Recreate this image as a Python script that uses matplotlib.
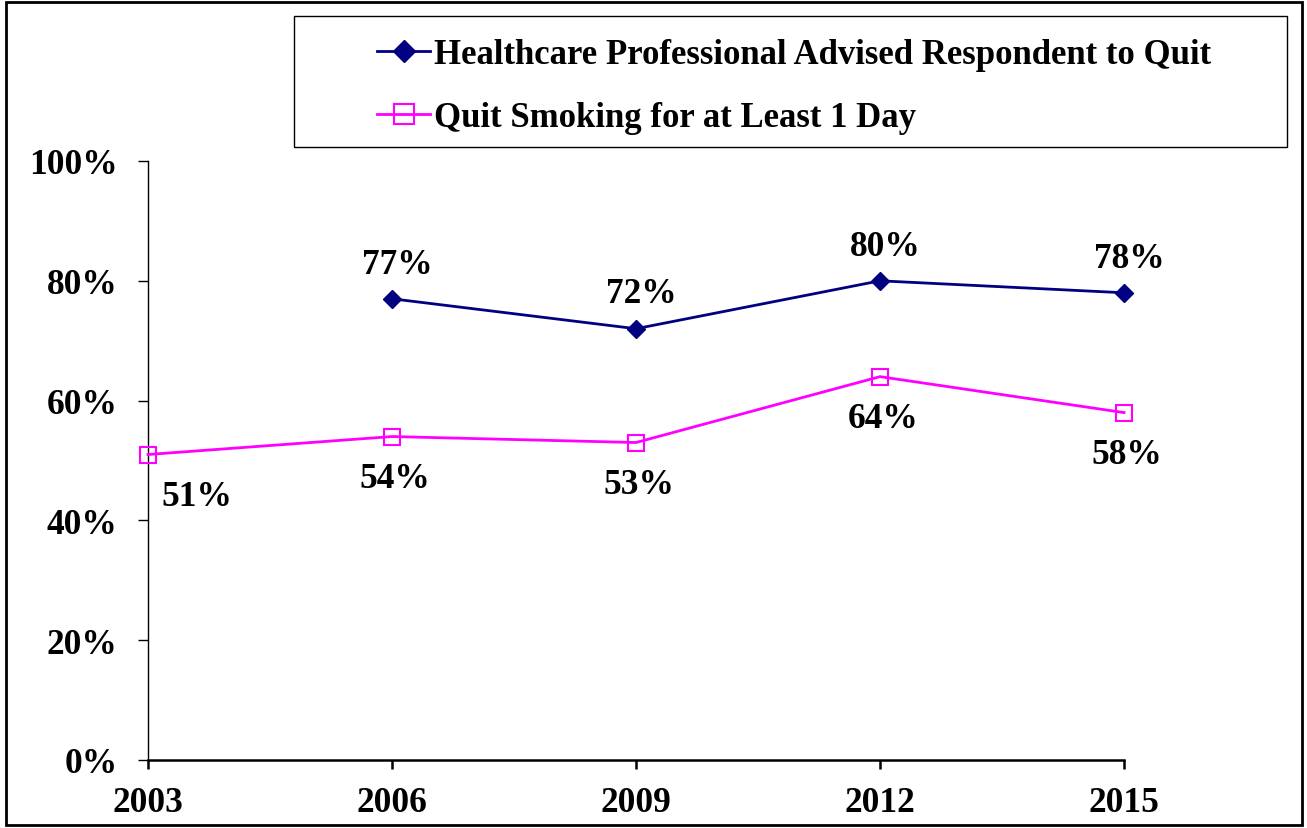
import numpy as np
import matplotlib.pyplot as plt
from matplotlib.patches import Rectangle

years = [2003, 2006, 2009, 2012, 2015]
advised = [np.nan, 77, 72, 80, 78]
quit_1day = [51, 54, 53, 64, 58]
yticks = [0, 20, 40, 60, 80, 100]

plt.rcParams['font.family'] = ['Liberation Serif', 'DejaVu Serif']
plt.rcParams['font.weight'] = 'bold'
plt.rcParams['font.size'] = 25.5

W, H = 1307, 829
fig = plt.figure(figsize=(W / 100, H / 100), dpi=100)
ax = fig.add_axes([148 / W, 1 - 761 / H, (1124 - 148) / W, (761 - 162) / H])

ax.plot(years, advised, color='#000080', lw=2, marker='D', ms=9,
        mfc='#000080', mec='#000080', label='Healthcare Professional Advised Respondent to Quit',
        clip_on=False, zorder=3)
ax.plot(years, quit_1day, color='#FF00FF', lw=2, marker='s', ms=12,
        mfc='none', mec='#FF00FF', mew=1.5, label='Quit Smoking for at Least 1 Day',
        clip_on=False, zorder=3)

for x, v in zip(years, advised):
    if np.isnan(v):
        continue
    ax.annotate(f'{v:.0f}%', (x, v), xytext=(4, 25), textcoords='offset points',
                ha='center', va='center', fontweight='bold')
for i, (x, v) in enumerate(zip(years, quit_1day)):
    dx = 35 if i == 0 else 2
    ax.annotate(f'{v}%', (x, v), xytext=(dx, -30), textcoords='offset points',
                ha='center', va='center', fontweight='bold')

ax.set_xlim(2003, 2015)
ax.set_ylim(0, 100)
ax.set_xticks(years)
ax.set_xticklabels([str(y) for y in years])
ax.set_yticks(yticks)
ax.set_yticklabels([f'{t}%' for t in yticks])
ax.spines['top'].set_visible(False)
ax.spines['right'].set_visible(False)
ax.spines['left'].set_linewidth(1)
ax.spines['bottom'].set_linewidth(1.8)
ax.tick_params(axis='y', direction='out', length=7, width=1, pad=15)
ax.tick_params(axis='x', direction='out', length=6.5, width=1.8, pad=12)

leg = fig.legend(loc='upper left', bbox_to_anchor=(377 / W, 1 - 39 / H),
                 frameon=False, handlelength=1.53, handletextpad=0.12,
                 labelspacing=0.86, borderpad=0, borderaxespad=0, markerscale=1.2,
                 prop={'weight': 'bold', 'size': 25})

fig.add_artist(Rectangle((294 / W, 1 - 148 / H), (1287 - 294) / W, (148 - 17) / H,
                         transform=fig.transFigure, fill=False, ec='black', lw=1))
fig.add_artist(Rectangle((6 / W, 3 / H), (1302 - 6) / W, (826 - 3) / H,
                         transform=fig.transFigure, fill=False, ec='black', lw=2))

fig.savefig('out.png', dpi=100)
